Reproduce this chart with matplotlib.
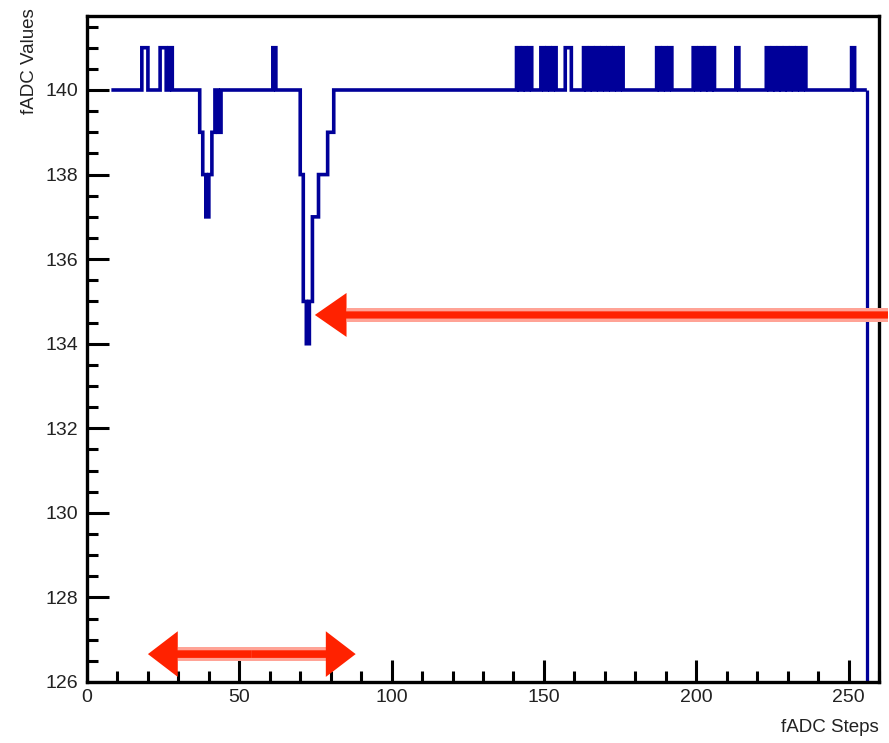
import matplotlib
matplotlib.use("Agg")
import matplotlib.pyplot as plt
from matplotlib.patches import FancyArrow, Rectangle
from matplotlib.ticker import MultipleLocator
import numpy as np

plt.rcParams['font.family'] = ['Liberation Sans', 'DejaVu Sans']

# fADC trace: steps 8..255, pedestal at 140, listed bins differ from it
first_step = 8
last_step = 256
pedestal = 140
deviations = {
	18: 141, 19: 141,
	24: 141, 25: 141, 27: 141,
	37: 139, 38: 138, 39: 137, 40: 138, 41: 139, 43: 139,
	61: 141,
	70: 138, 71: 135, 72: 134, 73: 135, 74: 137, 75: 137,
	76: 138, 77: 138, 78: 138, 79: 139, 80: 139,
	141: 141, 143: 141, 145: 141,
	149: 141, 151: 141, 153: 141,
	157: 141, 158: 141,
	163: 141, 165: 141, 167: 141, 169: 141, 171: 141, 173: 141, 175: 141,
	187: 141, 189: 141, 191: 141,
	199: 141, 201: 141, 203: 141, 205: 141,
	213: 141,
	223: 141, 225: 141, 227: 141, 229: 141, 231: 141, 233: 141, 235: 141,
	251: 141,
}

x_ticks = [0, 50, 100, 150, 200, 250]
y_ticks = [126, 128, 130, 132, 134, 136, 138, 140]

values = np.full(last_step - first_step, pedestal, dtype=float)
for step, v in deviations.items():
	values[step - first_step] = v
edges = np.arange(first_step, last_step + 1)

fig = plt.figure(figsize=(8.89, 7.43), dpi=100)
ax = fig.add_axes([87 / 889, 61 / 743, 792 / 889, 666 / 743])

line_color = '#000099'
lw = 2.6
steps = ax.stairs(values, edges, baseline=None, color=line_color, lw=lw)
steps.set_joinstyle('miter')
steps.set_snap(False)
# trace falls off after the last step
ax.vlines(edges[-1], 0, values[-1], color=line_color, lw=lw * 0.9)

ax.set_xlim(0, 260)
ax.set_ylim(126, 141.75)
ax.set_xticks(x_ticks)
ax.set_yticks(y_ticks)
ax.xaxis.set_minor_locator(MultipleLocator(10))
ax.yaxis.set_minor_locator(MultipleLocator(0.5))
ax.tick_params(which='both', direction='in', top=False, right=False,
			   width=2.2, color='black', labelsize=14, labelcolor='#222222')
ax.tick_params(which='major', length=15.8)
ax.tick_params(which='minor', length=7.9)
ax.tick_params(axis='y', pad=6.5)
ax.tick_params(axis='x', pad=5)
for s in ax.spines.values():
	s.set_linewidth(2.4)

fig.text(29 / 889, 1 - 8 / 743, 'fADC Values', rotation=90,
		 ha='center', va='top', fontsize=13.5, color='#222222')
fig.text(879 / 889, 1 - 728 / 743, 'fADC Steps',
		 ha='right', va='center', fontsize=13.5, color='#222222')

# red markers
red = '#ff2200'
halo = '#ffa396'

# single arrow pointing at the deepest dip
tip_x, tail_x, arr_y = 74.8, 262.95, 134.68
head_len = 10.4
ax.add_patch(Rectangle((tip_x + head_len, arr_y - 0.157), tail_x - tip_x - head_len, 0.314,
					   color=halo, lw=0, clip_on=False, zorder=5))
ax.add_patch(FancyArrow(tail_x, arr_y, tip_x - tail_x, 0, width=0.17, head_width=1.04,
						head_length=head_len, length_includes_head=True,
						color=red, lw=0, clip_on=False, zorder=6))

# double arrow along the bottom
left_x, right_x, dbl_y = 20.0, 88.2, 126.66
head_len2 = 9.8
mid_x = (left_x + right_x) / 2
ax.add_patch(Rectangle((left_x + head_len2, dbl_y - 0.157), right_x - left_x - 2 * head_len2, 0.314,
					   color=halo, lw=0, clip_on=False, zorder=5))
for end_x in (left_x, right_x):
	ax.add_patch(FancyArrow(mid_x, dbl_y, end_x - mid_x, 0, width=0.18, head_width=1.08,
							head_length=head_len2, length_includes_head=True,
							color=red, lw=0, clip_on=False, zorder=6))

fig.savefig('out.png', dpi=100)
